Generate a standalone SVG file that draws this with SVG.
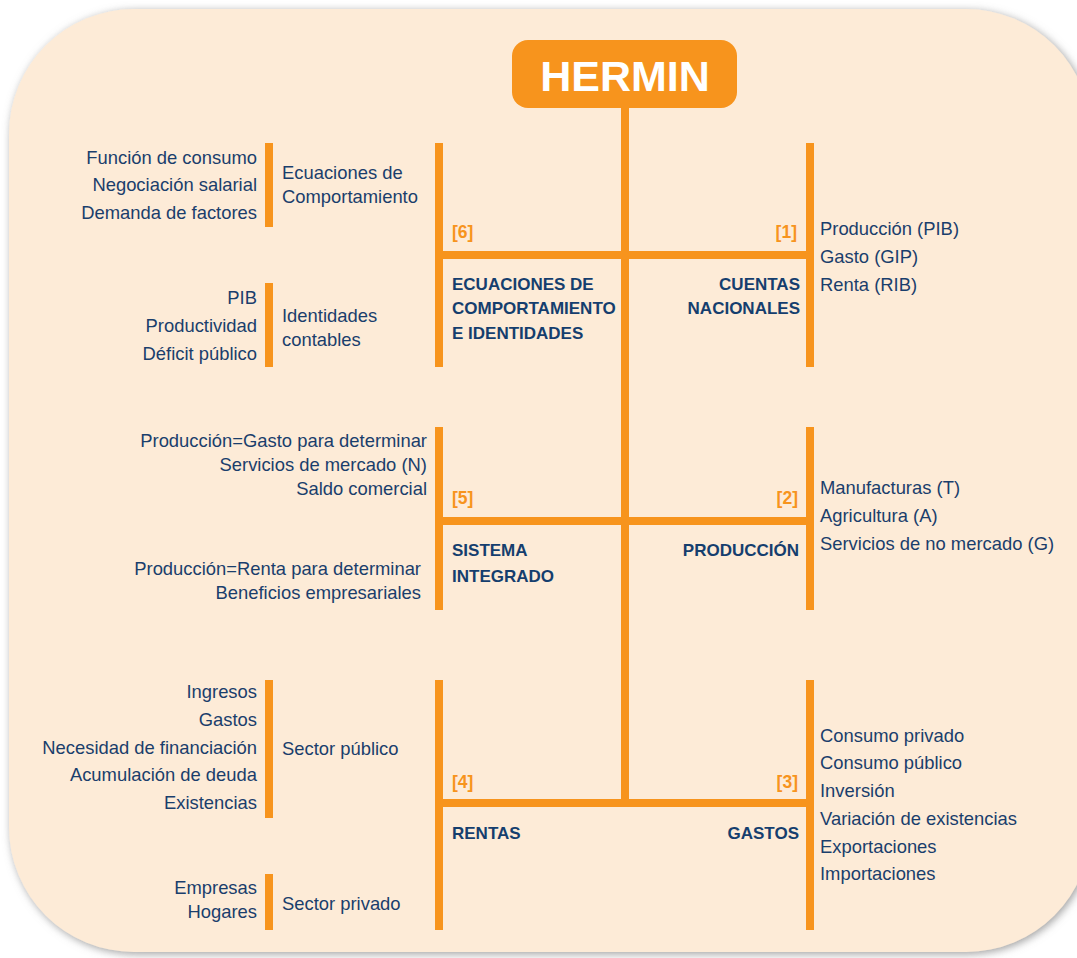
<svg xmlns="http://www.w3.org/2000/svg" width="1077" height="958" viewBox="0 0 1077 958">
<defs>
<filter id="sh" x="-5%" y="-5%" width="110%" height="110%">
<feDropShadow dx="2" dy="2" stdDeviation="4" flood-color="#777" flood-opacity="0.7"/>
</filter>
<style>
.bar{fill:#F7941D}
.t{font-family:"Liberation Sans",Arial,sans-serif;font-size:18.4px;fill:#1A3E6C}
.r{text-anchor:end}
.b{font-family:"Liberation Sans",Arial,sans-serif;font-size:17px;font-weight:bold;fill:#153E6E}
.n{font-family:"Liberation Sans",Arial,sans-serif;font-size:17.5px;font-weight:bold;fill:#F7941D}
</style>
</defs>
<rect width="1077" height="958" fill="#ffffff"/>
<rect x="9" y="9" width="1082" height="943" rx="125" ry="125" fill="#FDEBD7" filter="url(#sh)"/>

<g id="connectors">
<rect class="bar" x="621" y="105" width="8" height="702"/>
<rect class="bar" x="435" y="143" width="8" height="224"/>
<rect class="bar" x="806" y="143" width="8" height="224"/>
<rect class="bar" x="435" y="251" width="379" height="8"/>
<rect class="bar" x="435" y="427" width="8" height="183"/>
<rect class="bar" x="806" y="427" width="8" height="183"/>
<rect class="bar" x="435" y="517" width="379" height="8"/>
<rect class="bar" x="435" y="680" width="8" height="250"/>
<rect class="bar" x="806" y="680" width="8" height="250"/>
<rect class="bar" x="435" y="799" width="379" height="8"/>
<rect class="bar" x="265" y="143" width="8" height="84"/>
<rect class="bar" x="265" y="283" width="8" height="84"/>
<rect class="bar" x="265" y="680" width="8" height="138"/>
<rect class="bar" x="265" y="874" width="8" height="56"/>
</g>

<g id="hermin">
<rect x="512" y="40" width="225" height="68" rx="16" ry="16" fill="#F7941D"/>
<text x="625" y="91" text-anchor="middle" font-family="Liberation Sans,Arial,sans-serif" font-size="43" font-weight="bold" fill="#ffffff">HERMIN</text>
</g>

<g id="ecuaciones-comportamiento">
<text class="t r" x="257" y="164">Función de consumo</text>
<text class="t r" x="257" y="191">Negociación salarial</text>
<text class="t r" x="257" y="219">Demanda de factores</text>
<text class="t" x="282" y="179">Ecuaciones de</text>
<text class="t" x="282" y="203">Comportamiento</text>
</g>

<g id="identidades-contables">
<text class="t r" x="257" y="304">PIB</text>
<text class="t r" x="257" y="332">Productividad</text>
<text class="t r" x="257" y="360">Déficit público</text>
<text class="t" x="282" y="322">Identidades</text>
<text class="t" x="282" y="346">contables</text>
</g>

<g id="node6">
<text class="n" x="452" y="238">[6]</text>
<text class="b" x="452" y="290">ECUACIONES DE</text>
<text class="b" x="452" y="314">COMPORTAMIENTO</text>
<text class="b" x="452" y="339">E IDENTIDADES</text>
</g>

<g id="node1">
<text class="n r" x="797" y="238">[1]</text>
<text class="b r" x="800" y="290">CUENTAS</text>
<text class="b r" x="800" y="314">NACIONALES</text>
<text class="t" x="820" y="235">Producción (PIB)</text>
<text class="t" x="820" y="263">Gasto (GIP)</text>
<text class="t" x="820" y="291">Renta (RIB)</text>
</g>

<g id="node5">
<text class="t r" x="427" y="447">Producción=Gasto para determinar</text>
<text class="t r" x="427" y="471">Servicios de mercado (N)</text>
<text class="t r" x="427" y="495">Saldo comercial</text>
<text class="t r" x="421" y="575">Producción=Renta para determinar</text>
<text class="t r" x="421" y="599">Beneficios empresariales</text>
<text class="n" x="452" y="504">[5]</text>
<text class="b" x="452" y="556">SISTEMA</text>
<text class="b" x="452" y="582">INTEGRADO</text>
</g>

<g id="node2">
<text class="n r" x="798" y="504">[2]</text>
<text class="b r" x="799" y="556">PRODUCCIÓN</text>
<text class="t" x="820" y="494">Manufacturas (T)</text>
<text class="t" x="820" y="522">Agricultura (A)</text>
<text class="t" x="820" y="550">Servicios de no mercado (G)</text>
</g>

<g id="sector-publico">
<text class="t r" x="257" y="698">Ingresos</text>
<text class="t r" x="257" y="726">Gastos</text>
<text class="t r" x="257" y="754">Necesidad de financiación</text>
<text class="t r" x="257" y="781">Acumulación de deuda</text>
<text class="t r" x="257" y="809">Existencias</text>
<text class="t" x="282" y="755">Sector público</text>
</g>

<g id="sector-privado">
<text class="t r" x="257" y="894">Empresas</text>
<text class="t r" x="257" y="918">Hogares</text>
<text class="t" x="282" y="910">Sector privado</text>
</g>

<g id="node4">
<text class="n" x="452" y="788">[4]</text>
<text class="b" x="452" y="839">RENTAS</text>
</g>

<g id="node3">
<text class="n r" x="798" y="788">[3]</text>
<text class="b r" x="799" y="839">GASTOS</text>
<text class="t" x="820" y="742">Consumo privado</text>
<text class="t" x="820" y="769">Consumo público</text>
<text class="t" x="820" y="797">Inversión</text>
<text class="t" x="820" y="825">Variación de existencias</text>
<text class="t" x="820" y="853">Exportaciones</text>
<text class="t" x="820" y="880">Importaciones</text>
</g>
</svg>
